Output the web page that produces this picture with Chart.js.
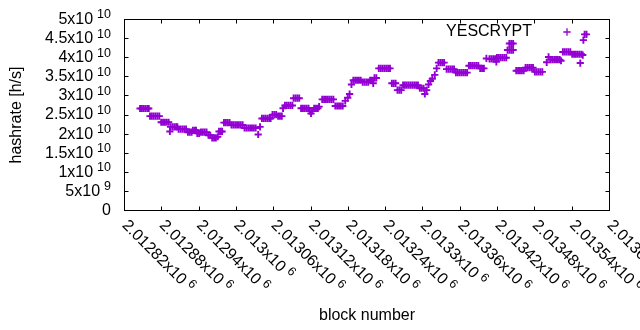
<!DOCTYPE html>
<html>
<head>
<meta charset="utf-8">
<script src="https://cdn.jsdelivr.net/npm/chart.js@4.4.0/dist/chart.umd.min.js"></script>
<style>
  html, body { margin: 0; padding: 0; background: #fff; }
</style>
</head>
<body>
<canvas id="hashChart" width="640" height="330"></canvas>
<script>
// ---------- data ----------
// block = firstBlock + blockOffset, hashrate in units of 1e10 h/s
const firstBlock = 2012820;
const blockOffset = [
  25, 28, 31, 34, 37, 39,
  41, 44, 47, 50, 53, 56,
  59, 62, 65, 68, 71, 73,
  74, 77, 80, 83, 85,
  87, 90, 93, 96, 99,
  102, 105, 108, 110, 113, 115, 117, 120,
  123, 126, 129, 132, 135, 138, 141, 144, 147, 150,
  152, 155, 157,
  160, 163, 166, 169,
  172, 175, 178, 181, 184, 187, 190,
  193, 196, 199, 202, 205, 208, 211, 215, 218,
  221, 224, 227, 230, 233, 235,
  238, 241, 244, 247, 250, 253, 255,
  258, 261, 264, 267, 270,
  272, 275, 278, 281,
  284, 287, 290, 293, 296,
  298, 300, 302, 305, 308, 311, 313,
  318, 321, 324, 327, 330, 333, 336,
  339, 342, 345, 348, 351,
  355, 359, 362, 365,
  368, 371, 374, 377, 380,
  383, 386, 389, 392,
  395, 398, 400, 402, 405,
  409, 412, 415, 418, 421, 424, 427,
  430, 433, 436,
  439, 442, 445,
  448, 451, 454, 457, 460, 463, 466, 469, 472,
  475, 478, 481, 483, 486,
  489, 492, 495, 499, 502,
  505, 508, 511, 514,
  518, 521, 524, 527, 530,
  533, 536, 539, 542, 545, 548, 551,
  554, 557, 560, 563, 566, 569,
  572, 575, 578, 582,
  587, 590, 593, 596, 598,
  599, 602, 605, 608, 611, 614,
  616, 619, 622, 625,
  619, 622, 625,
  630, 633, 636, 639, 642,
  645, 648, 651, 654, 657,
  660, 663, 666, 669, 672,
  679, 682,
  685, 688, 691, 694, 697, 700, 702,
  705, 708, 711, 714, 717,
  720, 723, 726, 729, 732,
  733, 735, 737, 738, 740, 743
];
const hashrate = [
  2.67, 2.67, 2.67, 2.67, 2.67, 2.67,
  2.47, 2.47, 2.47, 2.47, 2.47, 2.47,
  2.31, 2.31, 2.31, 2.31, 2.31, 2.07,
  2.19, 2.19, 2.19, 2.19, 2.19,
  2.13, 2.13, 2.13, 2.13, 2.13,
  2.05, 2.05, 2.05, 2.10, 2.10, 2.10, 2.02, 2.02,
  2.05, 2.05, 2.05, 2.05, 1.97, 1.97, 1.90, 1.90, 1.90, 1.93,
  2.07, 2.07, 2.07,
  2.30, 2.30, 2.30, 2.30,
  2.24, 2.24, 2.24, 2.24, 2.24, 2.24, 2.24,
  2.16, 2.16, 2.16, 2.16, 2.16, 2.16, 2.16, 1.99, 2.19,
  2.41, 2.41, 2.41, 2.41, 2.41, 2.41,
  2.51, 2.51, 2.51, 2.47, 2.47, 2.47, 2.675,
  2.75, 2.75, 2.75, 2.75, 2.75,
  2.94, 2.94, 2.94, 2.94,
  2.675, 2.675, 2.675, 2.675, 2.675,
  2.61, 2.54, 2.61, 2.675, 2.675, 2.675, 2.72,
  2.91, 2.91, 2.91, 2.91, 2.91, 2.91, 2.91,
  2.735, 2.735, 2.735, 2.735, 2.735,
  2.87, 2.95, 3.05, 3.30,
  3.41, 3.41, 3.41, 3.41, 3.41,
  3.36, 3.36, 3.36, 3.36,
  3.41, 3.41, 3.33, 3.47, 3.47,
  3.72, 3.72, 3.72, 3.72, 3.72, 3.72, 3.72,
  3.33, 3.33, 3.33,
  3.15, 3.15, 3.15,
  3.28, 3.28, 3.28, 3.28, 3.28, 3.28, 3.28, 3.28, 3.28,
  3.20, 3.20, 3.20, 3.05, 3.15,
  3.30, 3.39, 3.45, 3.55, 3.72,
  3.87, 3.87, 3.87, 3.87,
  3.70, 3.70, 3.70, 3.70, 3.70,
  3.61, 3.61, 3.61, 3.61, 3.61, 3.61, 3.61,
  3.79, 3.79, 3.79, 3.79, 3.79, 3.79,
  3.72, 3.72, 3.72, 3.98,
  3.97, 3.97, 3.97, 3.97, 3.89,
  4.00, 4.00, 4.00, 4.00, 4.00, 4.00,
  4.20, 4.20, 4.20, 4.20,
  4.37, 4.37, 4.37,
  3.66, 3.66, 3.66, 3.66, 3.66,
  3.74, 3.74, 3.74, 3.74, 3.74,
  3.63, 3.63, 3.63, 3.63, 3.63,
  3.88, 4.02,
  3.95, 3.95, 3.95, 3.95, 3.95, 3.95, 3.92,
  4.15, 4.15, 4.15, 4.15, 4.15,
  4.09, 4.09, 4.09, 4.09, 4.09,
  3.86, 4.09, 4.07, 4.46, 4.61, 4.61
];

// ticks: mantissa + exponent, gnuplot style "2.5x10^10"
const xTickValues = [2012820, 2012880, 2012940, 2013000, 2013060, 2013120, 2013180,
                     2013240, 2013300, 2013360, 2013420, 2013480, 2013540, 2013600];
const xTickLabels = ['2.01282', '2.01288', '2.01294', '2.013', '2.01306', '2.01312', '2.01318',
                     '2.01324', '2.0133', '2.01336', '2.01342', '2.01348', '2.01354', '2.0136'];
const xTickExp = '6';
const yTickValues = [0, 0.5e10, 1e10, 1.5e10, 2e10, 2.5e10, 3e10, 3.5e10, 4e10, 4.5e10, 5e10];
const yTickLabels = ['0', '5', '1', '1.5', '2', '2.5', '3', '3.5', '4', '4.5', '5'];
const yTickExp = ['', '9', '10', '10', '10', '10', '10', '10', '10', '10', '10'];

const seriesName = 'YESCRYPT';
const purple = '#9400d3';
const FONT = '"Liberation Sans", Arial, sans-serif';

let points = blockOffset.map((b, i) => ({ x: firstBlock + b, y: hashrate[i] * 1e10 }));

// ---------- frame, inward ticks, labels (gnuplot look) ----------
function sciText(ctx, mant, exp, x, y, alignRight) {
  const main = exp ? mant + 'x10' : mant;
  ctx.font = '16px ' + FONT;
  const w1 = ctx.measureText(main).width;
  ctx.font = '12.5px ' + FONT;
  const w2 = exp ? ctx.measureText(exp).width + 4 : 0;
  let x0 = alignRight ? x - (w1 + w2) : x;
  ctx.font = '16px ' + FONT;
  ctx.fillText(main, x0, y);
  if (exp) {
    ctx.font = '12.5px ' + FONT;
    ctx.fillText(exp, x0 + w1 + 4, y - 4.5);
  }
}

const gnuplotDecor = {
  id: 'gnuplotDecor',
  afterDraw(chart) {
    const ctx = chart.ctx;
    const area = chart.chartArea;
    const xs = chart.scales.x, ys = chart.scales.y;
    ctx.save();
    ctx.strokeStyle = '#000';
    ctx.lineWidth = 1;
    ctx.strokeRect(area.left, area.top, area.right - area.left, area.bottom - area.top);

    ctx.beginPath();
    yTickValues.forEach(v => {
      const py = Math.round(ys.getPixelForValue(v) - 0.5) + 0.5;
      ctx.moveTo(area.left, py); ctx.lineTo(area.left + 4, py);
      ctx.moveTo(area.right, py); ctx.lineTo(area.right - 4, py);
    });
    xTickValues.forEach(v => {
      const px = Math.round(xs.getPixelForValue(v) - 0.5) + 0.5;
      ctx.moveTo(px, area.bottom); ctx.lineTo(px, area.bottom - 4);
      ctx.moveTo(px, area.top); ctx.lineTo(px, area.top + 4);
    });
    ctx.stroke();

    ctx.fillStyle = '#000';
    ctx.textBaseline = 'middle';
    ctx.textAlign = 'left';
    yTickValues.forEach((v, i) => {
      sciText(ctx, yTickLabels[i], yTickExp[i], 111, ys.getPixelForValue(v), true);
    });

    xTickValues.forEach((v, i) => {
      ctx.save();
      ctx.translate(xs.getPixelForValue(v), area.bottom + 12.5);
      ctx.rotate(Math.PI / 4);
      sciText(ctx, xTickLabels[i], xTickExp, 0, 0, false);
      ctx.restore();
    });

    // axis titles
    ctx.font = '16px ' + FONT;
    ctx.textAlign = 'center';
    ctx.fillText('block number', (area.left + area.right) / 2, 316);
    ctx.save();
    ctx.translate(17, (area.top + area.bottom) / 2);
    ctx.rotate(-Math.PI / 2);
    ctx.fillText('hashrate [h/s]', 0, 0);
    ctx.restore();

    // key
    ctx.textAlign = 'right';
    ctx.fillText(seriesName, 532, 32);
    ctx.strokeStyle = purple;
    ctx.lineWidth = 1.3;
    ctx.beginPath();
    ctx.moveTo(563.3, 32); ctx.lineTo(570.7, 32);
    ctx.moveTo(567, 28.3); ctx.lineTo(567, 35.7);
    ctx.stroke();
    ctx.restore();
  }
};

new Chart(document.getElementById('hashChart'), {
  type: 'scatter',
  data: {
    datasets: [{
      label: seriesName,
      data: points,
      pointStyle: 'cross',
      pointRadius: 3.6,
      pointBorderWidth: 1.9,
      pointBorderColor: purple,
      pointBackgroundColor: purple,
      showLine: false
    }]
  },
  options: {
    responsive: false,
    animation: false,
    devicePixelRatio: 1,
    events: [],
    layout: { padding: { left: 124.5, right: 30.5, top: 19.5, bottom: 119.5 } },
    plugins: { legend: { display: false }, tooltip: { enabled: false } },
    scales: {
      x: { type: 'linear', display: false, min: 2012820, max: 2013600 },
      y: { type: 'linear', display: false, min: 0, max: 5e10 }
    }
  },
  plugins: [gnuplotDecor]
});
</script>
</body>
</html>
